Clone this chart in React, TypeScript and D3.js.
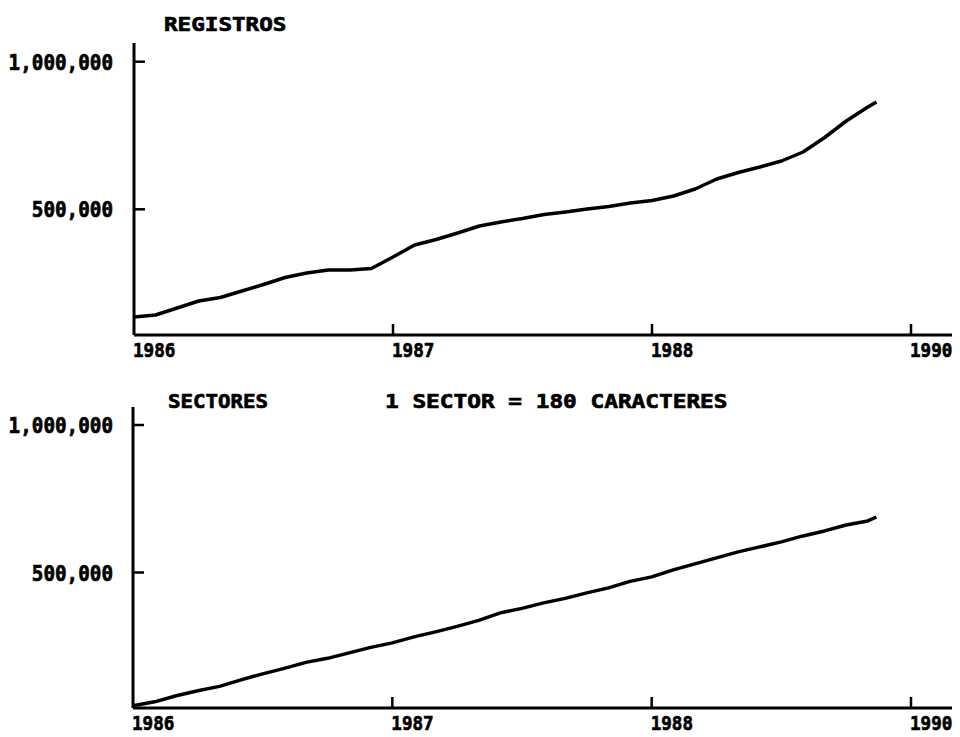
import React from "react";
import * as d3 from "d3";

// months counted from January 1986
const MONTHS = [
  0, 1, 2, 3, 4, 5, 6, 7, 8, 9, 10, 11, 12, 13, 14, 15, 16, 17,
  18, 19, 20, 21, 22, 23, 24, 25, 26, 27, 28, 29, 30, 31, 32, 33, 34, 34.4,
];

// REGISTROS
const REG_VALUES = [
  135000, 142000, 165700, 189400, 201200, 223300, 245300, 269000, 284200,
  294400, 294400, 299500, 338400, 379100, 397700, 419700, 443400, 457000,
  468800, 482400, 490900, 501000, 509500, 521300, 529800, 545100, 568800,
  602600, 624700, 643300, 663600, 694100, 743200, 799100, 846500, 863500,
];

// SECTORES
const SEC_VALUES = [
  48100, 61600, 82000, 98900, 114100, 136200, 156500, 175100, 195400,
  209000, 227700, 246300, 261500, 281800, 298800, 317400, 337700, 363100,
  378400, 397000, 412300, 430900, 447900, 469900, 485100, 508800, 529200,
  549500, 569800, 586800, 603700, 624000, 640900, 661200, 674800, 688200,
];

const YEAR_TICKS = [0, 12, 24, 36];
const YEAR_LABELS = ["1986", "1987", "1988", "1990"];
const Y_TICKS = [500000, 1000000];
const Y_LABELS = ["500,000", "1,000,000"];

const FONT = "'DejaVu Sans Mono', monospace";

function Txt({ x, y, text, size, charW, anchor = "start" }: any) {
  return (
    <text
      x={x}
      y={y}
      fontFamily={FONT}
      fontWeight="bold"
      fontSize={size}
      textAnchor={anchor}
      textLength={text.length * charW}
      lengthAdjust="spacingAndGlyphs"
      fill="#000"
      stroke="#000"
      strokeWidth={0.7}
    >
      {text}
    </text>
  );
}

function Panel({ values, x0, axisY, axisTop, y500, y1m, titles }: any) {
  const x = d3.scaleLinear().domain([0, 36]).range([x0, 911]);
  const y = d3.scaleLinear().domain([500000, 1000000]).range([y500, y1m]);
  const line = d3
    .line<number>()
    .x((_, i) => x(MONTHS[i]))
    .y((d) => y(d));

  return (
    <g>
      {titles.map((t: any, i: number) => (
        <Txt key={i} {...t} />
      ))}
      <line x1={x0} x2={x0} y1={axisTop} y2={axisY} stroke="#000" strokeWidth={3} />
      <line x1={x0} x2={952} y1={axisY} y2={axisY} stroke="#000" strokeWidth={3} />
      {Y_TICKS.map((v, i) => (
        <g key={v}>
          <line x1={x0} x2={x0 + 11} y1={y(v)} y2={y(v)} stroke="#000" strokeWidth={2.5} />
          <Txt x={113} y={y(v) + 8} text={Y_LABELS[i]} size={21} charW={11.6} anchor="end" />
        </g>
      ))}
      {YEAR_TICKS.map((m, i) => (
        <g key={m}>
          {i > 0 && (
            <line x1={x(m)} x2={x(m)} y1={axisY} y2={axisY - 11} stroke="#000" strokeWidth={2.5} />
          )}
          <Txt x={x(m) - 1} y={axisY + 22} text={YEAR_LABELS[i]} size={20} charW={10.6} />
        </g>
      ))}
      <path d={line(values) || ""} fill="none" stroke="#000" strokeWidth={3.5} strokeLinejoin="round" />
    </g>
  );
}

export default function App() {
  return (
    <svg width={960} height={737} viewBox="0 0 960 737" style={{ display: "block", position: "absolute", left: 0, top: 0, background: "#fff" }}>
      <rect width={960} height={737} fill="#fff" />
      <Panel
        values={REG_VALUES}
        x0={134}
        axisY={335}
        axisTop={43}
        y500={209.3}
        y1m={61.7}
        titles={[{ x: 164, y: 31, text: "REGISTROS", size: 20, charW: 13.6 }]}
      />
      <Panel
        values={SEC_VALUES}
        x0={133}
        axisY={708}
        axisTop={407}
        y500={572.5}
        y1m={425}
        titles={[
          { x: 168, y: 408, text: "SECTORES", size: 20, charW: 12.5 },
          { x: 385, y: 408, text: "1 SECTOR = 180 CARACTERES", size: 20, charW: 13.7 },
        ]}
      />
    </svg>
  );
}
